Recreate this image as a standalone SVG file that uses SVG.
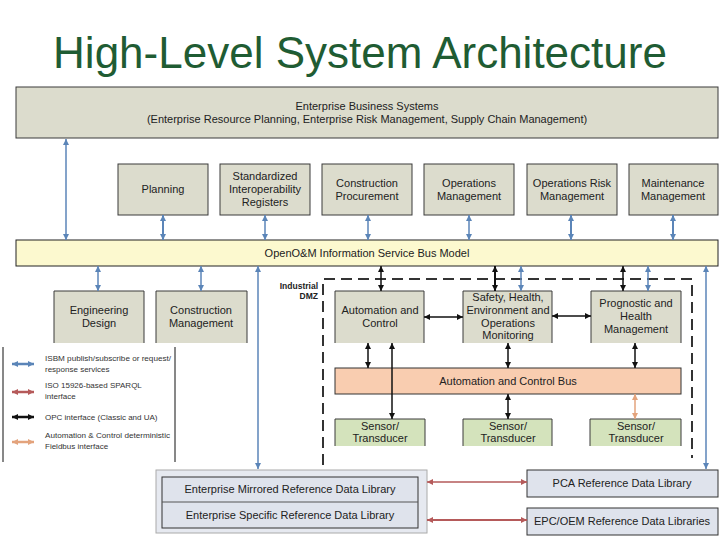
<svg xmlns="http://www.w3.org/2000/svg" width="720" height="540" viewBox="0 0 720 540">
<style>
text{font-family:"Liberation Sans",Arial,sans-serif;fill:#222;text-anchor:middle}
.t{font-size:11px}
.lg{font-size:8px;text-anchor:start;fill:#333}
.gray{fill:#dcdccd;stroke:#3a3a3a;stroke-width:1}
.grayo{fill:#dcdccd}
.side{fill:none;stroke:#3a3a3a;stroke-width:1}
.bus{fill:#fcf9cf;stroke:#222;stroke-width:1}
.acb{fill:#f9cdb0;stroke:#333;stroke-width:1}
.sen{fill:#d4e3bc}
.lib{fill:#dfe3ec;stroke:#333;stroke-width:1}
.libo{fill:#e6e9f0;stroke:#aaa;stroke-width:1}
.b{stroke:#5b85b8;stroke-width:1.5;fill:none;marker-start:url(#mb);marker-end:url(#mb)}
.k{stroke:#111;stroke-width:1.5;fill:none;marker-start:url(#mk);marker-end:url(#mk)}
.r{stroke:#b55a5a;stroke-width:1.5;fill:none;marker-start:url(#mr);marker-end:url(#mr)}
.o{stroke:#e3a37c;stroke-width:1.5;fill:none;marker-start:url(#mo);marker-end:url(#mo)}
.dash{fill:none;stroke:#333;stroke-width:2;stroke-dasharray:11 6}
</style>
<defs>
<marker id="mb" viewBox="0 0 8 8" refX="8" refY="4" markerWidth="6" markerHeight="6" markerUnits="userSpaceOnUse" orient="auto-start-reverse"><path d="M0,0L8,4L0,8z" fill="#5b85b8"/></marker>
<marker id="mk" viewBox="0 0 8 8" refX="8" refY="4" markerWidth="6" markerHeight="6" markerUnits="userSpaceOnUse" orient="auto-start-reverse"><path d="M0,0L8,4L0,8z" fill="#111"/></marker>
<marker id="mr" viewBox="0 0 8 8" refX="8" refY="4" markerWidth="6" markerHeight="6" markerUnits="userSpaceOnUse" orient="auto-start-reverse"><path d="M0,0L8,4L0,8z" fill="#b55a5a"/></marker>
<marker id="mo" viewBox="0 0 8 8" refX="8" refY="4" markerWidth="6" markerHeight="6" markerUnits="userSpaceOnUse" orient="auto-start-reverse"><path d="M0,0L8,4L0,8z" fill="#e3a37c"/></marker>
</defs>
<rect width="720" height="540" fill="#fff"/>
<text x="360" y="68" style="font-size:44px;fill:#1f5c33">High-Level System Architecture</text>

<g id="enterprise">
<rect class="gray" x="16" y="87" width="702" height="51"/>
<text class="t" x="367" y="110">Enterprise Business Systems</text>
<text class="t" x="367" y="123">(Enterprise Resource Planning, Enterprise Risk Management, Supply Chain Management)</text>
</g>

<g id="planning"><rect class="gray" x="118" y="164" width="90" height="51"/><text class="t" x="163" y="193">Planning</text></g>
<g id="registers"><rect class="gray" x="220" y="164" width="90" height="51"/><text class="t" x="265" y="180">Standardized</text><text class="t" x="265" y="193">Interoperability</text><text class="t" x="265" y="206">Registers</text></g>
<g id="procurement"><rect class="gray" x="322" y="164" width="90" height="51"/><text class="t" x="367" y="187">Construction</text><text class="t" x="367" y="200">Procurement</text></g>
<g id="opsmgmt"><rect class="gray" x="424" y="164" width="90" height="51"/><text class="t" x="469" y="187">Operations</text><text class="t" x="469" y="200">Management</text></g>
<g id="opsrisk"><rect class="gray" x="527" y="164" width="90" height="51"/><text class="t" x="572" y="187">Operations Risk</text><text class="t" x="572" y="200">Management</text></g>
<g id="maint"><rect class="gray" x="629" y="164" width="89" height="51"/><text class="t" x="673" y="187">Maintenance</text><text class="t" x="673" y="200">Management</text></g>

<g id="isbm">
<rect class="bus" x="16" y="240" width="702" height="26"/>
<text class="t" x="367" y="257">OpenO&amp;M Information Service Bus Model</text>
</g>

<g id="engdesign"><rect class="grayo" x="54" y="291" width="90" height="52"/><path class="side" d="M54,343V291H144V343"/><text class="t" x="99" y="314">Engineering</text><text class="t" x="99" y="327">Design</text></g>
<g id="constmgmt"><rect class="grayo" x="156" y="291" width="91" height="52"/><path class="side" d="M156,343V291H247V343"/><text class="t" x="201" y="314">Construction</text><text class="t" x="201" y="327">Management</text></g>

<g id="dmz">
<path class="dash" d="M323,465V279H692V458"/>
<text x="318" y="289" style="font-size:8.5px;font-weight:bold;text-anchor:end">Industrial</text>
<text x="318" y="299" style="font-size:8.5px;font-weight:bold;text-anchor:end">DMZ</text>
</g>

<g id="automation"><rect class="grayo" x="335" y="291" width="89" height="52"/><path class="side" d="M335,343V291H424V343"/><text class="t" x="380" y="314">Automation and</text><text class="t" x="380" y="327">Control</text></g>
<g id="safety"><rect class="grayo" x="463" y="291" width="89" height="52"/><path class="side" d="M463,343V291H552V343"/><text class="t" x="508" y="301">Safety, Health,</text><text class="t" x="508" y="314">Environment and</text><text class="t" x="508" y="327">Operations</text><text class="t" x="508" y="339">Monitoring</text></g>
<g id="prognostic"><rect class="grayo" x="591" y="291" width="90" height="52"/><path class="side" d="M591,343V291H681V343"/><text class="t" x="636" y="307">Prognostic and</text><text class="t" x="636" y="320">Health</text><text class="t" x="636" y="333">Management</text></g>

<g id="acbus">
<rect class="acb" x="335" y="368" width="346" height="26"/>
<text class="t" x="508" y="385">Automation and Control Bus</text>
</g>

<g id="sensor1"><rect class="sen" x="335" y="419" width="90" height="27"/><path class="side" d="M335,446V419H425V446"/><text class="t" x="380" y="430">Sensor/</text><text class="t" x="380" y="442">Transducer</text></g>
<g id="sensor2"><rect class="sen" x="463" y="419" width="89" height="27"/><path class="side" d="M463,446V419H552V446"/><text class="t" x="508" y="430">Sensor/</text><text class="t" x="508" y="442">Transducer</text></g>
<g id="sensor3"><rect class="sen" x="590" y="419" width="91" height="27"/><path class="side" d="M590,446V419H681V446"/><text class="t" x="636" y="430">Sensor/</text><text class="t" x="636" y="442">Transducer</text></g>

<g id="legend">
<path d="M3,347V462M175,347V462" stroke="#111" stroke-width="1" fill="none"/>
<line x1="12" y1="364" x2="34" y2="364" class="b" style="stroke-width:2.5"/>
<text class="lg" x="45" y="361" textLength="126" lengthAdjust="spacingAndGlyphs">ISBM publish/subscribe or request/</text>
<text class="lg" x="45" y="372">response services</text>
<line x1="12" y1="392" x2="34" y2="392" class="r" style="stroke-width:2.5"/>
<text class="lg" x="45" y="388">ISO 15926-based SPARQL</text>
<text class="lg" x="45" y="399">interface</text>
<line x1="12" y1="417" x2="34" y2="417" class="k" style="stroke-width:2.5"/>
<text class="lg" x="45" y="420">OPC interface (Classic and UA)</text>
<line x1="12" y1="442" x2="34" y2="442" class="o" style="stroke-width:2.5"/>
<text class="lg" x="45" y="438" textLength="125" lengthAdjust="spacingAndGlyphs">Automation &amp; Control deterministic</text>
<text class="lg" x="45" y="449">Fieldbus interface</text>
</g>

<g id="entlib">
<rect class="libo" x="156" y="470" width="271" height="63"/>
<rect class="lib" x="162" y="477" width="256" height="51"/>
<line x1="162" y1="502" x2="418" y2="502" stroke="#555" stroke-width="1"/>
<text class="t" x="290" y="493">Enterprise Mirrored Reference Data Library</text>
<text class="t" x="290" y="519">Enterprise Specific Reference Data Library</text>
</g>
<g id="pca"><rect class="lib" x="527" y="470" width="191" height="27"/><text class="t" x="622" y="487">PCA Reference Data Library</text></g>
<g id="epc"><rect class="lib" x="527" y="508" width="191" height="27"/><text class="t" x="622" y="525">EPC/OEM Reference Data Libraries</text></g>

<g id="connectors">
<line class="b" x1="66" y1="139" x2="66" y2="240"/>
<line class="b" x1="163" y1="215" x2="163" y2="240" style="stroke-width:2"/>
<line class="b" x1="265" y1="215" x2="265" y2="240"/>
<line class="b" x1="368" y1="215" x2="368" y2="240"/>
<line class="b" x1="469" y1="215" x2="469" y2="240"/>
<line class="b" x1="571" y1="215" x2="571" y2="240" style="stroke-width:2"/>
<line class="b" x1="673" y1="215" x2="673" y2="240" style="stroke-width:2"/>
<line class="b" x1="98" y1="266" x2="98" y2="291"/>
<line class="b" x1="201" y1="266" x2="201" y2="291"/>
<line class="b" x1="258" y1="266" x2="258" y2="469"/>
<line class="k" x1="381" y1="266" x2="381" y2="291"/>
<line class="k" x1="495" y1="266" x2="495" y2="291" style="stroke-width:2"/>
<line class="b" x1="521" y1="266" x2="521" y2="291"/>
<line class="k" x1="623" y1="266" x2="623" y2="291"/>
<line class="b" x1="648" y1="266" x2="648" y2="291"/>
<line class="b" x1="706" y1="266" x2="706" y2="469"/>
<line class="k" x1="424" y1="317" x2="463" y2="317"/>
<line class="k" x1="552" y1="316" x2="591" y2="316"/>
<line class="k" x1="368" y1="343" x2="368" y2="368"/>
<line class="k" x1="392" y1="343" x2="392" y2="419"/>
<line class="k" x1="508" y1="343" x2="508" y2="368"/>
<line class="k" x1="635" y1="343" x2="635" y2="368"/>
<line class="k" x1="508" y1="394" x2="508" y2="419"/>
<line class="o" x1="635" y1="394" x2="635" y2="419"/>
<line class="r" x1="427" y1="482" x2="527" y2="482"/>
<line class="r" x1="427" y1="520" x2="527" y2="520" style="stroke-width:2"/>
</g>
</svg>
